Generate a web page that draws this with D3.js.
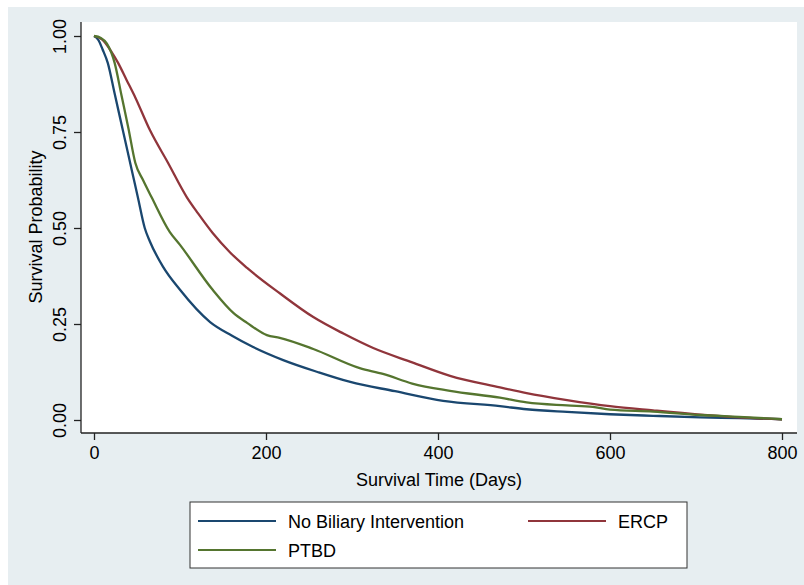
<!DOCTYPE html>
<html>
<head>
<meta charset="utf-8">
<script src="https://cdn.jsdelivr.net/npm/d3@7"></script>
<style>
  body { margin: 0; background: #ffffff; }
  text { font-family: "Liberation Sans", Arial, sans-serif; fill: #000; }
</style>
</head>
<body>
<script>
'use strict';

// Kaplan-Meier curves (days, survival probability)
const noInterventionDays = [0, 5, 10, 16, 24, 34, 44, 51, 59, 65, 80, 100, 135, 160, 185, 220, 260, 298, 350, 406, 472, 503, 550, 600, 650, 705, 750, 800];
const noInterventionSurv = [1, 0.99, 0.965, 0.93, 0.85, 0.75, 0.65, 0.58, 0.50, 0.465, 0.40, 0.339, 0.255, 0.22, 0.19, 0.156, 0.125, 0.099, 0.075, 0.05, 0.036, 0.028, 0.021, 0.015, 0.011, 0.007, 0.005, 0.002];

const ercpDays = [0, 10, 20, 28, 38, 48, 65, 86, 108, 121, 138, 158, 178, 216, 255, 290, 324, 370, 414, 472, 503, 550, 600, 650, 705, 750, 800];
const ercpSurv = [1, 0.99, 0.96, 0.93, 0.885, 0.84, 0.755, 0.67, 0.58, 0.538, 0.487, 0.437, 0.396, 0.33, 0.268, 0.225, 0.188, 0.15, 0.115, 0.085, 0.07, 0.052, 0.036, 0.025, 0.014, 0.007, 0.002];

const ptbdDays = [0, 8, 15, 24, 32, 40, 48, 57, 67, 88, 100, 138, 162, 178, 201, 216, 255, 309, 336, 370, 414, 472, 503, 550, 580, 600, 650, 705, 750, 800];
const ptbdSurv = [1, 0.995, 0.98, 0.93, 0.845, 0.76, 0.67, 0.625, 0.58, 0.49, 0.456, 0.339, 0.279, 0.253, 0.221, 0.214, 0.185, 0.135, 0.12, 0.095, 0.076, 0.058, 0.046, 0.038, 0.034, 0.027, 0.022, 0.013, 0.008, 0.002];

const seriesNames = ["No Biliary Intervention", "ERCP", "PTBD"];
const seriesColors = ["#1a476f", "#90353b", "#55752f"];

const xTicks = [0, 200, 400, 600, 800];
const yTicks = [0, 0.25, 0.5, 0.75, 1];

const width = 804;
const height = 585;

const svg = d3.select("body")
  .append("svg")
  .attr("width", width)
  .attr("height", height);

// graph region
svg.append("rect")
  .attr("x", 8).attr("y", 7)
  .attr("width", width - 8).attr("height", height - 7)
  .attr("fill", "#e7eef1");

// plot region
const plot = { left: 81, top: 22, right: 797, bottom: 433 };
svg.append("rect")
  .attr("x", plot.left).attr("y", plot.top)
  .attr("width", plot.right - plot.left)
  .attr("height", plot.bottom - plot.top)
  .attr("fill", "#ffffff");

const x = d3.scaleLinear().domain([0, 800]).range([94, 782]);
const y = d3.scaleLinear().domain([0, 1]).range([420, 36]);

// axes
const xAxis = svg.append("g")
  .attr("transform", "translate(0," + plot.bottom + ")")
  .call(d3.axisBottom(x).tickValues(xTicks).tickSize(7).tickPadding(6).tickFormat(d3.format("d")));
xAxis.select(".domain").attr("d", "M" + plot.left + ",0H" + plot.right);
xAxis.selectAll("text")
  .attr("font-size", 18)
  .attr("font-family", "Liberation Sans, Arial, sans-serif");

const yAxis = svg.append("g")
  .attr("transform", "translate(" + plot.left + ",0)")
  .call(d3.axisLeft(y).tickValues(yTicks).tickSize(7).tickFormat(d3.format(".2f")));
yAxis.select(".domain").attr("d", "M0," + plot.top + "V" + plot.bottom);
yAxis.selectAll("text")
  .attr("font-size", 18)
  .attr("font-family", "Liberation Sans, Arial, sans-serif")
  .attr("text-anchor", "middle")
  .attr("dy", 0)
  .attr("x", 0)
  .attr("transform", "translate(-15,0) rotate(-90)");

svg.selectAll(".domain, .tick line")
  .attr("stroke", "#222")
  .attr("stroke-width", 1.3);

// axis titles
svg.append("text")
  .attr("x", 439).attr("y", 486)
  .attr("text-anchor", "middle")
  .attr("font-size", 18)
  .text("Survival Time (Days)");

svg.append("text")
  .attr("transform", "translate(42,227) rotate(-90)")
  .attr("text-anchor", "middle")
  .attr("font-size", 18)
  .text("Survival Probability");

// curves
const series = [
  { days: noInterventionDays, surv: noInterventionSurv },
  { days: ercpDays, surv: ercpSurv },
  { days: ptbdDays, surv: ptbdSurv }
];

const line = d3.line()
  .x(d => x(d[0]))
  .y(d => y(d[1]))
  .curve(d3.curveMonotoneX);

svg.append("g")
  .selectAll("path")
  .data(series)
  .enter()
  .append("path")
  .attr("fill", "none")
  .attr("stroke", (d, i) => seriesColors[i])
  .attr("stroke-width", 2.3)
  .attr("d", d => line(d.days.map((t, i) => [t, d.surv[i]])));

// legend
const legend = svg.append("g");
legend.append("rect")
  .attr("x", 190).attr("y", 502)
  .attr("width", 497).attr("height", 66)
  .attr("fill", "#ffffff")
  .attr("stroke", "#333")
  .attr("stroke-width", 1);

const legendPos = [
  { x: 198, y: 521 },
  { x: 528, y: 521 },
  { x: 198, y: 550 }
];

legendPos.forEach((p, i) => {
  legend.append("line")
    .attr("x1", p.x).attr("x2", p.x + 78)
    .attr("y1", p.y).attr("y2", p.y)
    .attr("stroke", seriesColors[i])
    .attr("stroke-width", 2);
  legend.append("text")
    .attr("x", p.x + 90).attr("y", p.y + 6.5)
    .attr("font-size", 18)
    .text(seriesNames[i]);
});
</script>
</body>
</html>
